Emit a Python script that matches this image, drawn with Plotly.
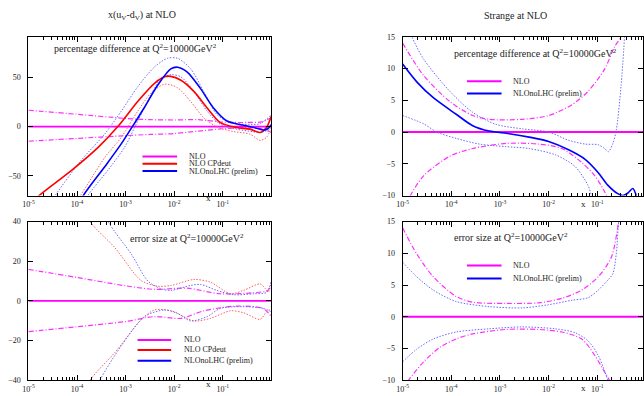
import numpy as np
import plotly.graph_objects as go

W, H = 644, 396

# ---------------- data (log10 x, value in %) ----------------
# Top-left: x(uV-dV) percentage difference
uv_nlo_lgx = [-5, 0]
uv_nlo_val = [0, 0]
uv_nlo_up_lgx = [-5, -4, -3, -2.5, -2, -1.5, -1, -0.5, -0.2, 0]
uv_nlo_up_val = [16.6, 12.5, 8.3, 7.0, 6.7, 7.0, 4.5, 4.2, 4.8, 9]
uv_nlo_lo_lgx = [-5, -4, -3, -2.5, -2, -1.5, -1, -0.5, -0.2, 0]
uv_nlo_lo_val = [-14.9, -12.0, -9.2, -8.0, -7.0, -4.6, -2.2, -1.0, -2.2, -6]
uv_cp_lgx = [-5, -4.78, -4.1, -3.56, -3.16, -2.75, -2.41, -2.2, -2.07, -1.86, -1.59, -1.32, -1.05, -0.71, -0.44, -0.23, -0.1, 0]
uv_cp_val = [-80, -70, -44, -20.9, 0, 25.5, 43.7, 50.5, 51.0, 47, 35.5, 18.9, 4, -1, -2.6, -6, -1, 10.6]
uv_cp_lo_lgx = [-4.2, -3.93, -3.42, -3.09, -2.75, -2.48, -2.2, -1.93, -1.66, -1.39, -1.12, -0.78, -0.44, -0.23, -0.1, 0]
uv_cp_lo_val = [-90, -70, -30.8, -11, 15.6, 33.8, 43.0, 39.4, 25.5, 9, -0.3, -5, -7.6, -14, -11, -1]
uv_nl_up_lgx = [-4.7, -4.45, -3.91, -3.43, -3.09, -2.75, -2.41, -2.14, -1.93, -1.66, -1.39, -1.12, -0.85, -0.44, -0.23, 0]
uv_nl_up_val = [-90, -70, -34, -7.6, 15.6, 40.4, 60.3, 69.3, 69.3, 58.6, 35.5, 12.3, 4, 2.3, 3, 12]
uv_nl_lgx = [-4.2, -3.87, -3.43, -3.09, -2.86, -2.62, -2.34, -2.07, -1.93, -1.73, -1.46, -1.19, -0.91, -0.57, -0.3, -0.16, -0.06, 0]
uv_nl_val = [-100, -70, -40.8, -17.6, 0, 18.9, 42, 58.6, 60.3, 55.3, 38.8, 18.9, 5.6, 1.3, -1.7, -3.6, -1.7, 2]
uv_nl_lo_lgx = [-4.1, -3.78, -3.36, -3.02, -2.75, -2.48, -2.27, -2.07, -1.86, -1.59, -1.32, -1.05, -0.71, -0.37, -0.23, 0]
uv_nl_lo_val = [-95, -70, -44, -20.9, 5.6, 32, 48.7, 52.7, 50.4, 35.5, 15.6, 2.3, -2.6, -5.3, -6, -2.6]

# Bottom-left: x(uV-dV) error size
ue_nlo_up_lgx = [-5, -4, -3, -2.4, -1.73, -1.05, -0.37, -0.07, 0]
ue_nlo_up_val = [15.9, 11.8, 7.6, 5.8, 6.4, 3.6, 4.1, 5.3, 8]
ue_nlo_lo_lgx = [-5, -4, -3, -2.4, -1.86, -1.39, -0.71, -0.17, 0]
ue_nlo_lo_val = [-15.5, -13.0, -10.4, -7.9, -8.8, -5, -2.6, -3.8, -7.9]
ue_cp_up_lgx = [-4.0, -3.73, -3.22, -2.68, -2.34, -2.06, -1.59, -1.25, -0.84, -0.57, -0.23, -0.13, -0.06, 0]
ue_cp_up_val = [55, 40, 26.8, 10.3, 7.4, 7.8, 10.8, 9.4, 3.6, 5.3, 8.6, 6.4, 4.5, 9.4]
ue_cp_lo_lgx = [-4.0, -3.73, -3.22, -2.68, -2.41, -2.06, -1.59, -1.25, -0.84, -0.57, -0.23, -0.1, 0]
ue_cp_lo_val = [-55, -40, -26, -9.6, -4.6, -5, -10.1, -8.8, -5, -6, -9.3, -5.5, -3.8]
ue_nl_up_lgx = [-3.6, -3.36, -2.88, -2.54, -2.27, -2.07, -1.66, -1.46, -1.12, -0.78, -0.37, -0.1, 0]
ue_nl_up_val = [55, 40, 23.5, 10, 6.1, 5.3, 7.8, 8.3, 5.3, 3.1, 3.6, 4.3, 10]
ue_nl_lo_lgx = [-3.8, -3.53, -3.09, -2.61, -2.2, -1.93, -1.66, -1.32, -1.05, -0.57, -0.16, 0]
ue_nl_lo_val = [-55, -40, -22.7, -7.9, -4.6, -6.3, -10.1, -7.9, -3.8, -2.9, -3.8, -5.5]

# Top-right: strange percentage difference
s_nlo_lgx = [-5, 0]
s_nlo_val = [0, 0]
s_nlo_up_lgx = [-5, -4.57, -4.03, -3.56, -3.22, -2.54, -2.0, -1.52, -1.19, -0.85, -0.64, -0.51, -0.4]
s_nlo_up_val = [14, 8.9, 4.8, 2.6, 2.0, 2.0, 2.6, 4.3, 6.4, 9.9, 13.5, 15, 18]
s_nlo_lo_lgx = [-5, -4.84, -4.57, -4.03, -3.56, -2.88, -2.2, -1.73, -1.32, -1.05, -0.85, -0.7]
s_nlo_lo_val = [-13, -10, -6.9, -3.8, -2.6, -1.8, -1.9, -2.6, -4.8, -6.9, -9.4, -12]
s_nl_lgx = [-5, -4.71, -4.37, -3.9, -3.56, -3.22, -2.81, -2.4, -2.0, -1.59, -1.25, -0.98, -0.78, -0.58, -0.47, -0.37, -0.27, -0.18]
s_nl_val = [10.7, 7.9, 5.4, 2.8, 1.0, 0.15, -0.26, -0.8, -1.5, -2.8, -4.3, -6.4, -8.4, -9.7, -10, -9.6, -8.9, -10.5]
s_nl_up_lgx = [-4.95, -4.81, -4.57, -4.03, -3.56, -3.08, -2.54, -2.0, -1.59, -1.25, -0.98, -0.85, -0.77, -0.68, -0.61, -0.51, -0.44]
s_nl_up_val = [18, 15, 11.5, 6.4, 3.1, 1.2, 0.5, 0.0, -1.3, -1.9, -2.0, -2.6, -3.1, -1.8, 0.3, 7.4, 15]
s_nl_lo_lgx = [-5, -4.57, -4.3, -3.9, -3.42, -2.88, -2.4, -1.86, -1.46, -1.19, -1.12, -1.0]
s_nl_lo_val = [2.6, 1.3, 0, -1, -1.9, -2.3, -2.6, -3.6, -5.4, -8.4, -10, -12]

# Bottom-right: strange error size
se_nlo_up_lgx = [-5, -4.71, -4.37, -3.9, -3.56, -2.88, -2.2, -1.73, -1.32, -0.98, -0.71, -0.56, -0.5]
se_nlo_up_val = [14, 9.9, 6.3, 3.2, 2.3, 2.1, 2.2, 2.9, 4.2, 6.3, 9.4, 15, 18]
se_nlo_lo_lgx = [-5, -4.88, -4.57, -4.23, -3.9, -3.56, -2.88, -2.2, -1.73, -1.32, -1.05, -0.85, -0.75, -0.7]
se_nlo_lo_val = [-11.5, -10, -7.1, -4.8, -3.5, -2.7, -2.0, -2.0, -2.4, -3.5, -6.1, -8.7, -10, -11]
se_nl_up_lgx = [-5, -4.71, -4.37, -3.9, -3.22, -2.54, -2.0, -1.52, -1.19, -0.98, -0.78, -0.68, -0.61, -0.56, -0.5]
se_nl_up_val = [8.6, 6.3, 4.2, 2.4, 1.6, 1.4, 1.9, 2.6, 3.0, 4.2, 5.8, 6.8, 9.9, 15, 18]
se_nl_lo_lgx = [-5, -4.71, -4.37, -3.9, -3.22, -2.54, -1.86, -1.46, -1.19, -0.98, -0.78, -0.7]
se_nl_lo_val = [-7.1, -5.1, -3.5, -2.4, -1.9, -1.6, -1.9, -2.5, -3.8, -6.1, -10, -11.5]

# tick labels
x_tick_exps = [-5, -4, -3, -2, -1]
ytick_tl = [-50, 0, 50]
ytick_bl = [-40, -20, 0, 20, 40]
ytick_r = [-10, -5, 0, 5, 10, 15]

# ---------------- styling ----------------
MAG = "#ff00ff"
RED = "#ff0000"
BLUE = "#0000ff"
RED_D = "#ff6060"
BLUE_D = "#6a6aff"
MAG_D = "#ff30ff"
FONT = "Liberation Serif"
DASHDOT = "5px,2px,1px,2px"
DOT = "1.5px,1.5px"

fig = go.Figure()

def px2x(p):
    return p / W

def px2y(p):
    return 1 - p / H

# axis domains (paper fraction)
dom_xl = [px2x(22.7), px2x(268.2)]
dom_xr = [px2x(401), 1.0]
dom_yt = [px2y(196), px2y(33.5)]
dom_yb = [px2y(385), px2y(222.6)]

def add(lgx, val, xa, ya, color, width, dash=None):
    fig.add_trace(go.Scatter(
        x=np.power(10.0, lgx), y=val, mode="lines", xaxis=xa, yaxis=ya,
        line=dict(color=color, width=width, dash=dash, shape="spline", smoothing=0.8),
        showlegend=False, hoverinfo="skip"))

# top-left
add(uv_nlo_lgx, uv_nlo_val, "x", "y", MAG, 1.8)
add(uv_nlo_up_lgx, uv_nlo_up_val, "x", "y", MAG_D, 1.2, DASHDOT)
add(uv_nlo_lo_lgx, uv_nlo_lo_val, "x", "y", MAG_D, 1.2, DASHDOT)
add(uv_cp_lo_lgx, uv_cp_lo_val, "x", "y", RED_D, 1, DOT)
add(uv_nl_up_lgx, uv_nl_up_val, "x", "y", BLUE_D, 1, DOT)
add(uv_nl_lo_lgx, uv_nl_lo_val, "x", "y", BLUE_D, 1, DOT)
add(uv_cp_lgx, uv_cp_val, "x", "y", RED, 1.6)
add(uv_nl_lgx, uv_nl_val, "x", "y", BLUE, 1.6)

# bottom-left
add(uv_nlo_lgx, uv_nlo_val, "x2", "y2", MAG, 1.8)
add(ue_nlo_up_lgx, ue_nlo_up_val, "x2", "y2", MAG_D, 1.2, DASHDOT)
add(ue_nlo_lo_lgx, ue_nlo_lo_val, "x2", "y2", MAG_D, 1.2, DASHDOT)
add(ue_cp_up_lgx, ue_cp_up_val, "x2", "y2", RED_D, 1, DOT)
add(ue_cp_lo_lgx, ue_cp_lo_val, "x2", "y2", RED_D, 1, DOT)
add(ue_nl_up_lgx, ue_nl_up_val, "x2", "y2", BLUE_D, 1, DOT)
add(ue_nl_lo_lgx, ue_nl_lo_val, "x2", "y2", BLUE_D, 1, DOT)

# top-right
add(s_nlo_lgx, s_nlo_val, "x3", "y3", MAG, 1.8)
add(s_nlo_up_lgx, s_nlo_up_val, "x3", "y3", MAG_D, 1.2, DASHDOT)
add(s_nlo_lo_lgx, s_nlo_lo_val, "x3", "y3", MAG_D, 1.2, DASHDOT)
add(s_nl_up_lgx, s_nl_up_val, "x3", "y3", BLUE_D, 1, DOT)
add(s_nl_lo_lgx, s_nl_lo_val, "x3", "y3", BLUE_D, 1, DOT)
add(s_nl_lgx, s_nl_val, "x3", "y3", BLUE, 1.6)

# bottom-right
add(s_nlo_lgx, s_nlo_val, "x4", "y4", MAG, 2.2)
add(se_nlo_up_lgx, se_nlo_up_val, "x4", "y4", MAG_D, 1.2, DASHDOT)
add(se_nlo_lo_lgx, se_nlo_lo_val, "x4", "y4", MAG_D, 1.2, DASHDOT)
add(se_nl_up_lgx, se_nl_up_val, "x4", "y4", BLUE_D, 1, DOT)
add(se_nl_lo_lgx, se_nl_lo_val, "x4", "y4", BLUE_D, 1, DOT)

tickfont = dict(family=FONT, size=8, color="#222")
minor_vals = [m * 10.0 ** e for e in range(-5, 0) for m in range(2, 10)]
major_vals = [10.0 ** e for e in x_tick_exps]
major_text = ["10<sup>%d</sup>" % e for e in x_tick_exps]

def xaxis(domain, anchor, rng):
    return dict(type="log", domain=domain, anchor=anchor, range=rng,
                tickmode="array", tickvals=major_vals, ticktext=major_text,
                ticks="inside", ticklen=5, tickwidth=1, tickcolor="#000",
                minor=dict(tickmode="array", tickvals=minor_vals, ticks="inside",
                           ticklen=3, tickwidth=1, tickcolor="#000"),
                showline=True, linecolor="#000", linewidth=1, mirror="ticks",
                showgrid=False, zeroline=False, tickfont=tickfont,
                ticklabelstandoff=1, fixedrange=True)

def yaxis(domain, anchor, rng, vals):
    return dict(domain=domain, anchor=anchor, range=rng, tickmode="array",
                tickvals=vals, ticks="inside", ticklen=5, tickwidth=1, tickcolor="#000",
                showline=True, linecolor="#000", linewidth=1, mirror="ticks",
                showgrid=False, zeroline=False, tickfont=tickfont,
                ticklabelstandoff=5, fixedrange=True)

rng_r = [-5, -5 + (644 - 401) / 49.2]
fig.update_layout(
    width=W, height=H, margin=dict(l=0, r=0, t=0, b=0),
    paper_bgcolor="white", plot_bgcolor="white", showlegend=False,
    xaxis=xaxis(dom_xl, "y", [-5, 0]),
    yaxis=yaxis(dom_yt, "x", [-70, 91.2], ytick_tl),
    xaxis2=xaxis(dom_xl, "y2", [-5, 0]),
    yaxis2=yaxis(dom_yb, "x2", [-40, 40], ytick_bl),
    xaxis3=xaxis(dom_xr, "y3", rng_r),
    yaxis3=yaxis(dom_yt, "x3", [-10, 15], ytick_r),
    xaxis4=xaxis(dom_xr, "y4", rng_r),
    yaxis4=yaxis(dom_yb, "x4", [-10, 15], ytick_r),
)

ann = []
def text(x, y, s, size, anchor="left"):
    ann.append(dict(x=px2x(x), y=px2y(y), xref="paper", yref="paper", text=s,
                    showarrow=False, xanchor=anchor, yanchor="middle",
                    font=dict(family=FONT, size=size, color="#222")))

text(137, 12, "x(u<sub>V</sub>-d<sub>V</sub>) at NLO", 10, "center")
text(515, 12, "Strange at NLO", 10, "center")
text(47, 45, "percentage difference at Q<sup>2</sup>=10000GeV<sup>2</sup>", 10)
text(451, 50, "percentage difference at Q<sup>2</sup>=10000GeV<sup>2</sup>", 10)
text(123, 239, "error size at Q<sup>2</sup>=10000GeV<sup>2</sup>", 10)
text(451, 238, "error size at Q<sup>2</sup>=10000GeV<sup>2</sup>", 10)
for (xx, yy) in [(205, 199), (205, 388.5), (583.7, 205), (583.7, 392.5)]:
    text(xx, yy, "x", 9, "center")

shapes = []
def legend(x0, x1, xt, rows):
    for (yy, col, lab) in rows:
        shapes.append(dict(type="line", xref="paper", yref="paper",
                           x0=px2x(x0), x1=px2x(x1), y0=px2y(yy), y1=px2y(yy),
                           line=dict(color=col, width=2)))
        text(xt, yy, lab, 8)

legend(138, 173, 183, [(156, MAG, "NLO"), (163.5, RED, "NLO CPdeut"), (171, BLUE, "NLOnoLHC (prelim)")])
legend(133, 167, 178, [(343.7, MAG, "NLO"), (354, RED, "NLO CPdeut"), (365, BLUE, "NLOnoLHC (prelim)")])
legend(466, 501, 511, [(79, MAG, "NLO"), (91.7, BLUE, "NLOnoLHC (prelim)")])
legend(466, 501, 511, [(267.7, MAG, "NLO"), (281, BLUE, "NLOnoLHC (prelim)")])

fig.update_layout(annotations=ann, shapes=shapes)
fig.write_html("out.html", config={"displayModeBar": False},
               post_script="document.body.style.margin='0';document.body.style.overflow='hidden';")
